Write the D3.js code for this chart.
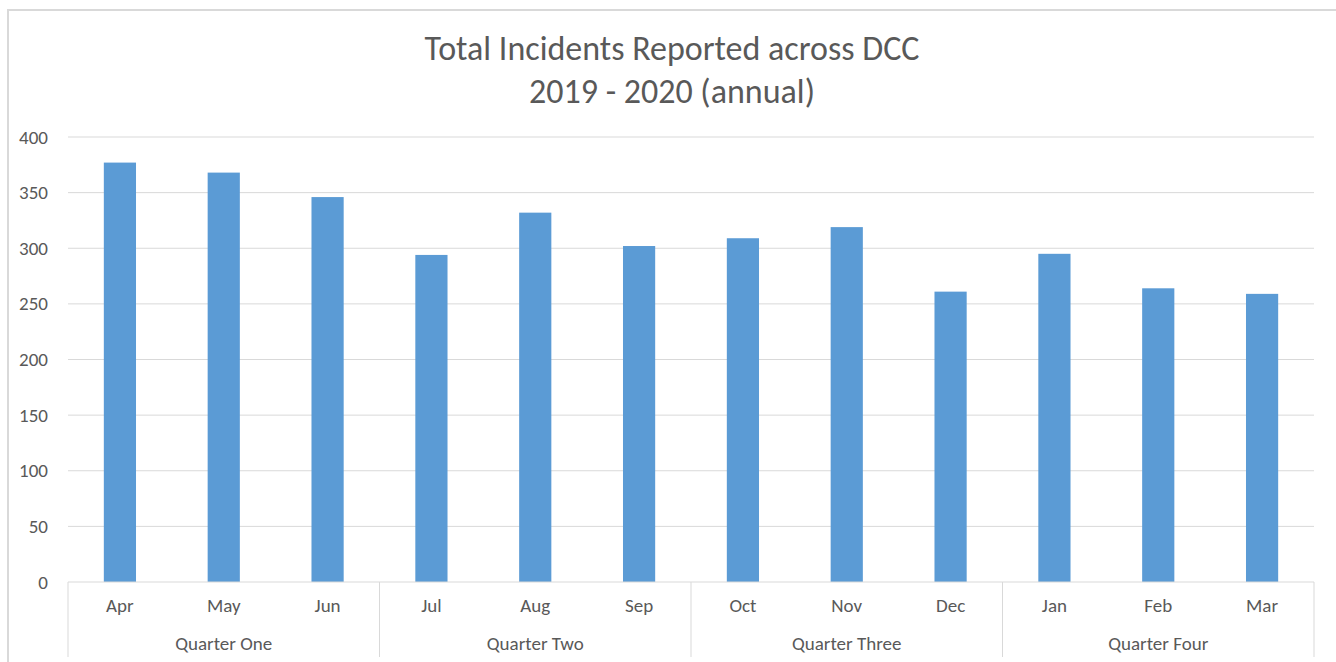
<!DOCTYPE html>
<html lang="en">
<head>
    <meta charset="UTF-8">
    <script src="https://d3js.org/d3.v7.min.js"></script>
    <title>Total Incidents</title>
    <style>
        body { margin: 0; background: #fff; }
        text { font-family: "Carlito", "Liberation Sans Narrow", "Open Sans", sans-serif; fill: #595959; }
    </style>
</head>
<body>
    <svg id="chart" width="1336" height="662"></svg>
    <script>
        // data
        const months = ["Apr", "May", "Jun", "Jul", "Aug", "Sep", "Oct", "Nov", "Dec", "Jan", "Feb", "Mar"];
        const incidents = [377, 368, 346, 294, 332, 302, 309, 319, 261, 295, 264, 259];
        const quarters = ["Quarter One", "Quarter Two", "Quarter Three", "Quarter Four"];
        const yTicks = [0, 50, 100, 150, 200, 250, 300, 350, 400];
        const titleLines = ["Total Incidents Reported across DCC", "2019 - 2020 (annual)"];

        const svg = d3.select("#chart");
        const plotLeft = 68, plotRight = 1314, plotTop = 137, plotBottom = 582;

        // chart frame
        svg.append("path")
            .attr("d", "M8,662 V10 H1336")
            .attr("fill", "none")
            .attr("stroke", "#d9d9d9")
            .attr("stroke-width", 2);

        // title
        svg.selectAll(".title")
            .data(titleLines)
            .enter().append("text")
            .attr("class", "title")
            .attr("x", 672)
            .attr("y", (d, i) => 60 + i * 43)
            .attr("text-anchor", "middle")
            .style("font-size", "34px")
            .text(d => d);

        const x = d3.scaleBand()
            .domain(months)
            .range([plotLeft, plotRight])
            .paddingInner(0.69)
            .paddingOuter(0.345);

        const y = d3.scaleLinear()
            .domain([0, 400])
            .range([plotBottom, plotTop]);

        // gridlines
        svg.append("g")
            .selectAll("line")
            .data(yTicks.slice(1))
            .enter().append("line")
            .attr("x1", plotLeft)
            .attr("x2", plotRight)
            .attr("y1", d => y(d))
            .attr("y2", d => y(d))
            .attr("stroke", "#d9d9d9")
            .attr("stroke-width", 1);

        // y axis labels
        const yAxis = d3.axisLeft(y).tickValues(yTicks).tickSize(0).tickPadding(20);
        const yg = svg.append("g")
            .attr("transform", "translate(" + plotLeft + ",0)")
            .call(yAxis);
        yg.select(".domain").remove();
        yg.attr("font-family", null);
        yg.selectAll("text")
            .style("font-size", "19px")
            .attr("fill", null);

        // bars
        svg.append("g")
            .selectAll("rect")
            .data(incidents)
            .enter().append("rect")
            .attr("x", (d, i) => x(months[i]))
            .attr("y", d => y(d))
            .attr("width", x.bandwidth())
            .attr("height", d => plotBottom - y(d))
            .attr("fill", "#5b9bd5");

        // x axis baseline
        svg.append("line")
            .attr("x1", plotLeft).attr("x2", plotRight)
            .attr("y1", plotBottom).attr("y2", plotBottom)
            .attr("stroke", "#d9d9d9");

        // month labels
        const xAxis = d3.axisBottom(x).tickSize(0).tickPadding(17);
        const xg = svg.append("g")
            .attr("transform", "translate(0," + plotBottom + ")")
            .call(xAxis);
        xg.select(".domain").remove();
        xg.attr("font-family", null);
        xg.selectAll("text")
            .style("font-size", "19px")
            .attr("fill", null);

        // quarter groups
        const qScale = d3.scaleBand()
            .domain(quarters)
            .range([plotLeft, plotRight]);

        svg.append("g")
            .selectAll("line")
            .data(d3.range(quarters.length + 1))
            .enter().append("line")
            .attr("x1", i => plotLeft + i * qScale.step())
            .attr("x2", i => plotLeft + i * qScale.step())
            .attr("y1", plotBottom)
            .attr("y2", 657)
            .attr("stroke", "#d9d9d9");

        svg.append("g")
            .selectAll("text")
            .data(quarters)
            .enter().append("text")
            .attr("x", d => qScale(d) + qScale.bandwidth() / 2)
            .attr("y", 650)
            .attr("text-anchor", "middle")
            .style("font-size", "19px")
            .text(d => d);
    </script>
</body>
</html>
